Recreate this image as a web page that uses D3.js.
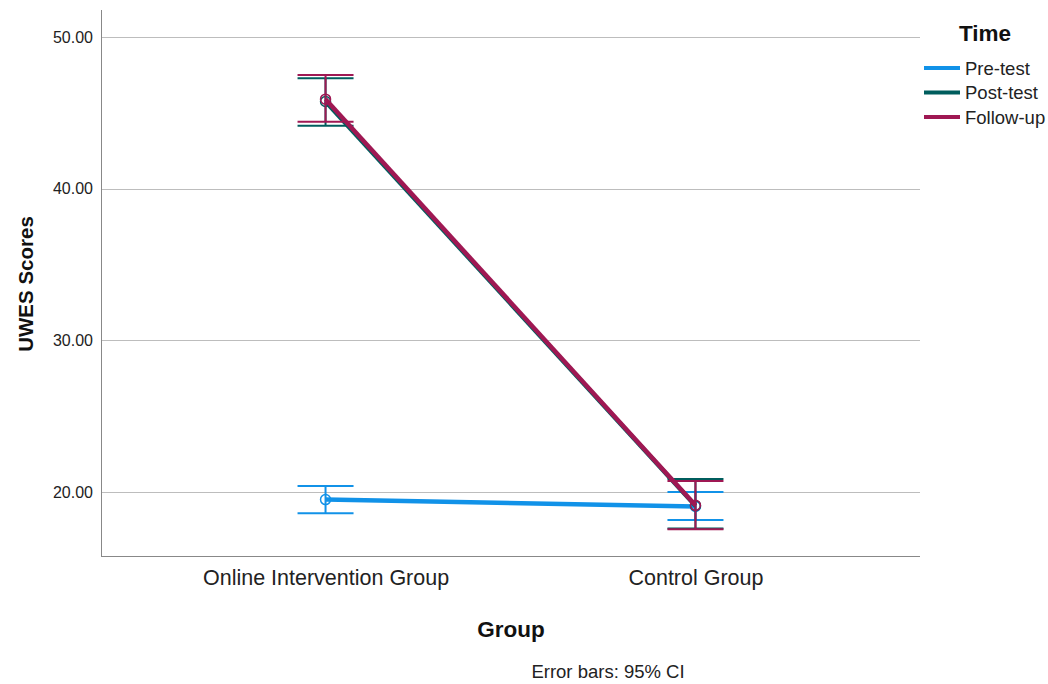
<!DOCTYPE html>
<html>
<head>
<meta charset="utf-8">
<script src="https://cdn.jsdelivr.net/npm/d3@7"></script>
<style>
body { margin: 0; background: #fff; }
text { font-family: "Liberation Sans", Arial, sans-serif; }
</style>
</head>
<body>
<svg class="chart"></svg>
<script>
var groups = ["Online Intervention Group", "Control Group"];
var times = ["Pre-test", "Post-test", "Follow-up"];
var colors = ["#1192e8", "#005d5d", "#9f1853"];
var means = [[19.5, 19.05], [45.75, 19.1], [45.9, 19.12]];
var lowerCI = [[18.6, 18.15], [44.15, 17.6], [44.42, 17.54]];
var upperCI = [[20.4, 20.0], [47.28, 20.86], [47.5, 20.72]];
var yTicks = [20, 30, 40, 50];

var width = 1048, height = 684;
var margin = {top: 10, right: 128, bottom: 128, left: 101};
var plotW = width - margin.left - margin.right,
    plotH = height - margin.top - margin.bottom;

var svg = d3.select(".chart")
    .attr("width", width)
    .attr("height", height);

var x = d3.scalePoint().domain(groups).range([0, plotW]).padding(0.607);
var y = d3.scaleLinear().domain([15.78, 51.78]).range([plotH, 0]);

var g = svg.append("g")
    .attr("transform", "translate(" + margin.left + "," + margin.top + ")");

// gridlines
g.selectAll("line.grid")
    .data(yTicks)
    .enter()
    .append("line")
    .attr("class", "grid")
    .attr("x1", 0)
    .attr("x2", plotW)
    .attr("y1", function(d) { return Math.round(y(d)) + 0.5; })
    .attr("y2", function(d) { return Math.round(y(d)) + 0.5; })
    .attr("stroke", "#bdbdbd")
    .attr("stroke-width", 1);

// axes
var yAxis = d3.axisLeft(y).tickValues(yTicks).tickFormat(d3.format(".2f")).tickSize(0).tickPadding(8);
var yg = g.append("g").call(yAxis);
yg.select(".domain").attr("stroke", "#888").attr("d", "M0.5,0V" + plotH);
yg.selectAll("text").attr("font-size", 16).attr("fill", "#222");

var xAxis = d3.axisBottom(x).tickSize(0).tickPadding(14);
var xg = g.append("g").attr("transform", "translate(0," + plotH + ")").call(xAxis);
xg.select(".domain").attr("stroke", "#888").attr("d", "M0,0.5H" + plotW);
xg.selectAll("text").attr("font-size", 21.5).attr("fill", "#222");

var line = d3.line()
    .x(function(d, i) { return x(groups[i]); })
    .y(function(d) { return y(d); });

var capHalf = 28;

times.forEach(function(t, s) {
    var sg = g.append("g").attr("class", "series");
    var col = colors[s];

    // error bars
    groups.forEach(function(grp, i) {
        var cx = x(grp);
        sg.append("line")
            .attr("x1", cx).attr("x2", cx)
            .attr("y1", y(lowerCI[s][i])).attr("y2", y(upperCI[s][i]))
            .attr("stroke", col).attr("stroke-width", 2);
        [lowerCI[s][i], upperCI[s][i]].forEach(function(v) {
            sg.append("line")
                .attr("x1", cx - capHalf).attr("x2", cx + capHalf)
                .attr("y1", y(v)).attr("y2", y(v))
                .attr("stroke", col).attr("stroke-width", 2);
        });
    });

    sg.append("path")
        .datum(means[s])
        .attr("d", line)
        .attr("fill", "none")
        .attr("stroke", col)
        .attr("stroke-width", 4.5);

    sg.selectAll("circle")
        .data(means[s])
        .enter()
        .append("circle")
        .attr("cx", function(d, i) { return x(groups[i]); })
        .attr("cy", function(d) { return y(d); })
        .attr("r", 5)
        .attr("fill", "none")
        .attr("stroke", col)
        .attr("stroke-width", 1.5);
});

// axis titles
svg.append("text")
    .attr("transform", "translate(33," + (margin.top + plotH / 2 + 1) + ") rotate(-90)")
    .attr("text-anchor", "middle")
    .attr("font-size", 20.5)
    .attr("font-weight", "bold")
    .attr("fill", "#111")
    .text("UWES Scores");

svg.append("text")
    .attr("x", 511)
    .attr("y", 637)
    .attr("text-anchor", "middle")
    .attr("font-size", 22.5)
    .attr("font-weight", "bold")
    .attr("fill", "#111")
    .text("Group");

svg.append("text")
    .attr("x", 608)
    .attr("y", 678)
    .attr("text-anchor", "middle")
    .attr("font-size", 18.5)
    .attr("fill", "#222")
    .text("Error bars: 95% CI");

// legend
var legend = svg.append("g").attr("transform", "translate(924,0)");
legend.append("text")
    .attr("x", 61)
    .attr("y", 41)
    .attr("text-anchor", "middle")
    .attr("font-size", 22.5)
    .attr("font-weight", "bold")
    .attr("fill", "#111")
    .text("Time");

var items = legend.selectAll("g.item")
    .data(times)
    .enter()
    .append("g")
    .attr("class", "item")
    .attr("transform", function(d, i) { return "translate(0," + (68 + i * 24.5) + ")"; });

items.append("line")
    .attr("x1", 0).attr("x2", 36)
    .attr("y1", 0).attr("y2", 0)
    .attr("stroke", function(d, i) { return colors[i]; })
    .attr("stroke-width", 4);

items.append("text")
    .attr("x", 41)
    .attr("y", 6.5)
    .attr("font-size", 18.5)
    .attr("fill", "#222")
    .text(function(d) { return d; });
</script>
</body>
</html>
